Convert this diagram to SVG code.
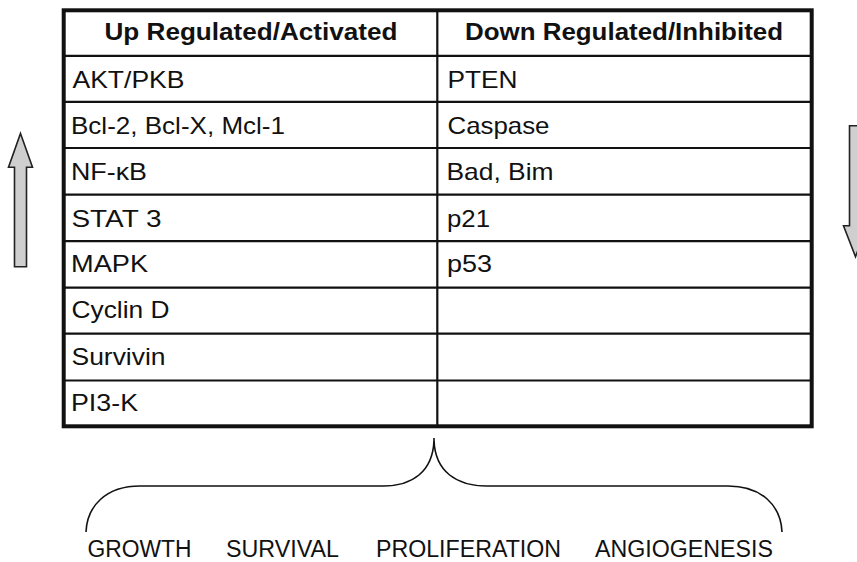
<svg xmlns="http://www.w3.org/2000/svg" width="857" height="562" viewBox="0 0 857 562">
  <style>
    .hdr { font-family: "Liberation Sans", Arial, sans-serif; font-size: 23px; font-weight: bold; fill: #111; }
    .cell { font-family: "Liberation Sans", Arial, sans-serif; font-size: 24px; fill: #111; }
    .lbl { font-family: "Liberation Sans", Arial, sans-serif; font-size: 23.5px; fill: #111; }
    .grid { stroke: #111; stroke-width: 2.2; fill: none; }
    .frame { stroke: #111; stroke-width: 4; fill: none; }
    .arrow { fill: #cfcfcf; stroke: #222; stroke-width: 1.6; stroke-linejoin: miter; }
    .brace { fill: none; stroke: #111; stroke-width: 1.6; }
  </style>
  <rect width="857" height="562" fill="#ffffff"/>

  <g id="table">
    <g id="grid-lines">
      <line class="grid" x1="63" y1="55.8" x2="812" y2="55.8"/>
      <line class="grid" x1="63" y1="101.8" x2="812" y2="101.8"/>
      <line class="grid" x1="63" y1="148" x2="812" y2="148"/>
      <line class="grid" x1="63" y1="194.7" x2="812" y2="194.7"/>
      <line class="grid" x1="63" y1="241.2" x2="812" y2="241.2"/>
      <line class="grid" x1="63" y1="287.7" x2="812" y2="287.7"/>
      <line class="grid" x1="63" y1="333.7" x2="812" y2="333.7"/>
      <line class="grid" x1="63" y1="380.5" x2="812" y2="380.5"/>
      <line class="grid" x1="437.3" y1="10" x2="437.3" y2="426"/>
    </g>
    <rect class="frame" x="63.7" y="10.3" width="748" height="416"/>

    <g id="header">
      <text class="hdr" x="104.5" y="39.5" textLength="293" lengthAdjust="spacingAndGlyphs">Up Regulated/Activated</text>
      <text class="hdr" x="465" y="39.5" textLength="318" lengthAdjust="spacingAndGlyphs">Down Regulated/Inhibited</text>
    </g>
    <g id="row1">
      <text class="cell" x="72.5" y="87.5" textLength="112" lengthAdjust="spacingAndGlyphs">AKT/PKB</text>
      <text class="cell" x="447.5" y="87.5" textLength="70" lengthAdjust="spacingAndGlyphs">PTEN</text>
    </g>
    <g id="row2">
      <text class="cell" x="71" y="133.7" textLength="214" lengthAdjust="spacingAndGlyphs">Bcl-2, Bcl-X, Mcl-1</text>
      <text class="cell" x="447.5" y="133.7" textLength="102" lengthAdjust="spacingAndGlyphs">Caspase</text>
    </g>
    <g id="row3">
      <text class="cell" x="71" y="180.2" textLength="76" lengthAdjust="spacingAndGlyphs">NF-κB</text>
      <text class="cell" x="446.5" y="180.2" textLength="107" lengthAdjust="spacingAndGlyphs">Bad, Bim</text>
    </g>
    <g id="row4">
      <text class="cell" x="71.5" y="226.5" textLength="90" lengthAdjust="spacingAndGlyphs">STAT 3</text>
      <text class="cell" x="447" y="226.5" textLength="43" lengthAdjust="spacingAndGlyphs">p21</text>
    </g>
    <g id="row5">
      <text class="cell" x="71" y="272.2" textLength="77" lengthAdjust="spacingAndGlyphs">MAPK</text>
      <text class="cell" x="447" y="272.2" textLength="45" lengthAdjust="spacingAndGlyphs">p53</text>
    </g>
    <g id="row6">
      <text class="cell" x="71.5" y="318.2" textLength="98" lengthAdjust="spacingAndGlyphs">Cyclin D</text>
    </g>
    <g id="row7">
      <text class="cell" x="71.5" y="364.5" textLength="94" lengthAdjust="spacingAndGlyphs">Survivin</text>
    </g>
    <g id="row8">
      <text class="cell" x="71" y="411.2" textLength="67" lengthAdjust="spacingAndGlyphs">PI3-K</text>
    </g>
  </g>

  <g id="up-arrow">
    <polygon class="arrow" points="20.5,133.5 32.5,167.3 26.5,167.3 26.5,266.7 14.5,266.7 14.5,167.3 8.5,167.3"/>
  </g>
  <g id="down-arrow">
    <polygon class="arrow" points="849.5,125.7 861.5,125.7 861.5,225.7 867.5,225.7 855.5,256.7 843.5,225.7 849.5,225.7"/>
  </g>

  <g id="connectors">
    <path class="brace" d="M86,532 C87,506 106,486 140,486 L383,486 C412,486 433,472 434,440 L434,438 M434,440 C435,472 457,486 487,486 L728,486 C762,486 781,506 782,532"/>
  </g>

  <g id="outcomes">
    <text class="lbl" x="87.5" y="557" textLength="104" lengthAdjust="spacingAndGlyphs">GROWTH</text>
    <text class="lbl" x="226" y="557" textLength="113" lengthAdjust="spacingAndGlyphs">SURVIVAL</text>
    <text class="lbl" x="376" y="557" textLength="185" lengthAdjust="spacingAndGlyphs">PROLIFERATION</text>
    <text class="lbl" x="595" y="557" textLength="178" lengthAdjust="spacingAndGlyphs">ANGIOGENESIS</text>
  </g>
</svg>
